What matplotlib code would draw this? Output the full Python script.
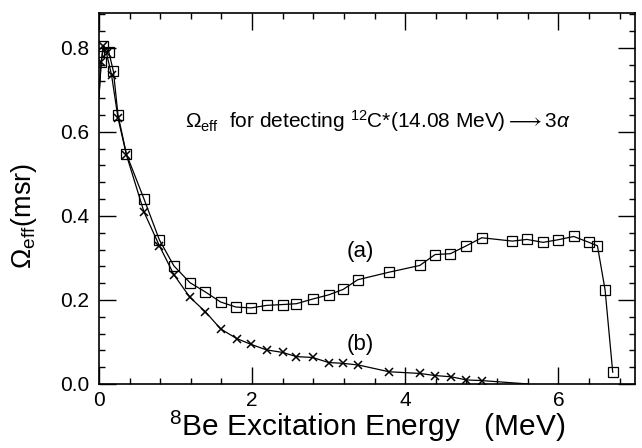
import matplotlib
matplotlib.use("Agg")
import matplotlib.pyplot as plt
from matplotlib.ticker import MultipleLocator

plt.rcParams['font.family'] = ['Liberation Sans', 'DejaVu Sans']
plt.rcParams['mathtext.fontset'] = 'custom'
plt.rcParams['mathtext.rm'] = 'Liberation Sans'
plt.rcParams['mathtext.it'] = 'Liberation Sans:italic'

# curve (a): squares; first entry is the unmarked start of the line
energy_a = [0.0, 0.03, 0.06, 0.13, 0.19, 0.25, 0.36, 0.59, 0.79, 0.98, 1.19, 1.39,
            1.59, 1.79, 1.99, 2.19, 2.40, 2.58, 2.79, 3.0, 3.19, 3.38, 3.79, 4.19,
            4.39, 4.59, 4.80, 5.0, 5.40, 5.59, 5.80, 5.99, 6.20, 6.40, 6.51, 6.61, 6.71]
omega_a = [0.68, 0.766, 0.805, 0.79, 0.744, 0.64, 0.547, 0.44, 0.343, 0.281, 0.241, 0.219,
           0.195, 0.183, 0.181, 0.187, 0.189, 0.191, 0.202, 0.212, 0.225, 0.248, 0.266, 0.282,
           0.308, 0.31, 0.329, 0.348, 0.34, 0.344, 0.337, 0.343, 0.351, 0.337, 0.329, 0.224, 0.028]

# curve (b): crosses; first and last entries are unmarked line ends
energy_b = [0.0, 0.03, 0.06, 0.10, 0.165, 0.25, 0.36, 0.59, 0.79, 0.98, 1.19, 1.39,
            1.59, 1.80, 1.99, 2.19, 2.40, 2.58, 2.79, 3.0, 3.19, 3.39, 3.79, 4.19,
            4.39, 4.60, 4.80, 5.0, 5.6]
omega_b = [0.68, 0.766, 0.805, 0.787, 0.736, 0.633, 0.545, 0.409, 0.329, 0.26, 0.206, 0.172,
           0.131, 0.108, 0.094, 0.081, 0.075, 0.065, 0.063, 0.051, 0.049, 0.045, 0.029, 0.025,
           0.02, 0.017, 0.0095, 0.008, 0.0]

fig = plt.figure(figsize=(6.42, 4.48), dpi=100)
ax = fig.add_axes([0.154, 0.143, 0.835, 0.828])

ax.plot(energy_a, omega_a, color='black', lw=0.9, marker='s', ms=6.5, mfc='none',
        mec='black', mew=0.9, markevery=list(range(1, len(energy_a))))
ax.plot(energy_b, omega_b, color='black', lw=0.9, marker='x', ms=6, mec='black',
        mew=1.1, markevery=list(range(1, len(energy_b) - 1)))

ax.set_xlim(0, 7.0)
ax.set_ylim(0, 0.883)
ax.xaxis.set_major_locator(MultipleLocator(2))
ax.xaxis.set_minor_locator(MultipleLocator(0.4))
ax.yaxis.set_major_locator(MultipleLocator(0.2))
ax.yaxis.set_minor_locator(MultipleLocator(0.04))
ax.yaxis.set_major_formatter(plt.FuncFormatter(lambda v, p: f"{v:.1f}"))
ax.tick_params(which='both', direction='in', top=True, right=True, labelsize=15, width=1)
ax.tick_params(which='major', length=12)
ax.tick_params(axis='y', which='major', pad=7)
ax.tick_params(axis='x', which='major', pad=5)
ax.tick_params(which='minor', length=4)
for s in ax.spines.values():
    s.set_linewidth(1.2)

ax.text(1.12, 0.625, r"$\Omega_{\rm eff}$  for detecting $^{12}$C*(14.08 MeV)$\longrightarrow$3$\it{\alpha}$",
        fontsize=15, va='center', ha='left')
ax.text(3.41, 0.315, "(a)", fontsize=16, ha='center', va='center')
ax.text(3.41, 0.093, "(b)", fontsize=16, ha='center', va='center')

ax.set_xlabel(r"$^{8}$Be Excitation Energy   (MeV)", fontsize=21.5, labelpad=-1)
ax.set_ylabel(r"$\Omega_{\rm eff}$(msr)", fontsize=19.5)
ax.yaxis.set_label_coords(-0.112, 0.453)

fig.savefig("out.png", dpi=100)
